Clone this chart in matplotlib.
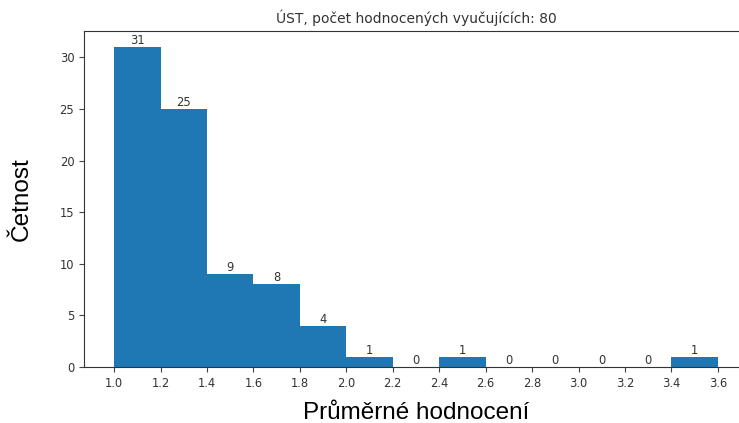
import numpy as np
import matplotlib
matplotlib.use("Agg")
import matplotlib.pyplot as plt

# histogram of average ratings
bin_edges = [1.0, 1.2, 1.4, 1.6, 1.8, 2.0, 2.2, 2.4, 2.6, 2.8, 3.0, 3.2, 3.4, 3.6]
counts = [31, 25, 9, 8, 4, 1, 0, 1, 0, 0, 0, 0, 1]
title = "ÚST, počet hodnocených vyučujících: 80"
xlabel = "Průměrné hodnocení"
ylabel = "Četnost"

edges = np.array(bin_edges)
centers = (edges[:-1] + edges[1:]) / 2

fig = plt.figure(figsize=(7.39, 4.23), dpi=100)
ax = fig.add_axes([84 / 739, (423 - 367) / 423, (748 - 84) / 739, (367 - 31) / 423])

n, bins, patches = ax.hist(centers, bins=edges, weights=counts, color="#1f77b4")
for c, v in zip(centers, n):
    ax.text(c, v, str(int(v)), ha="center", va="bottom", fontsize=8.3, color="#333333")

ax.set_xticks(edges)
ax.set_xticklabels(["%.1f" % e for e in edges])
ax.tick_params(labelsize=8.3, labelcolor="#333333", color="#444444")
for s in ax.spines.values():
    s.set_color("#333333")
ax.set_title(title, fontsize=10, color="#333333")
ax.set_xlabel(xlabel, fontsize=17.5, family="Liberation Sans", labelpad=9)
ax.set_ylabel(ylabel, fontsize=17.5, family="Liberation Sans", labelpad=19)

fig.savefig("out.png", dpi=100)
